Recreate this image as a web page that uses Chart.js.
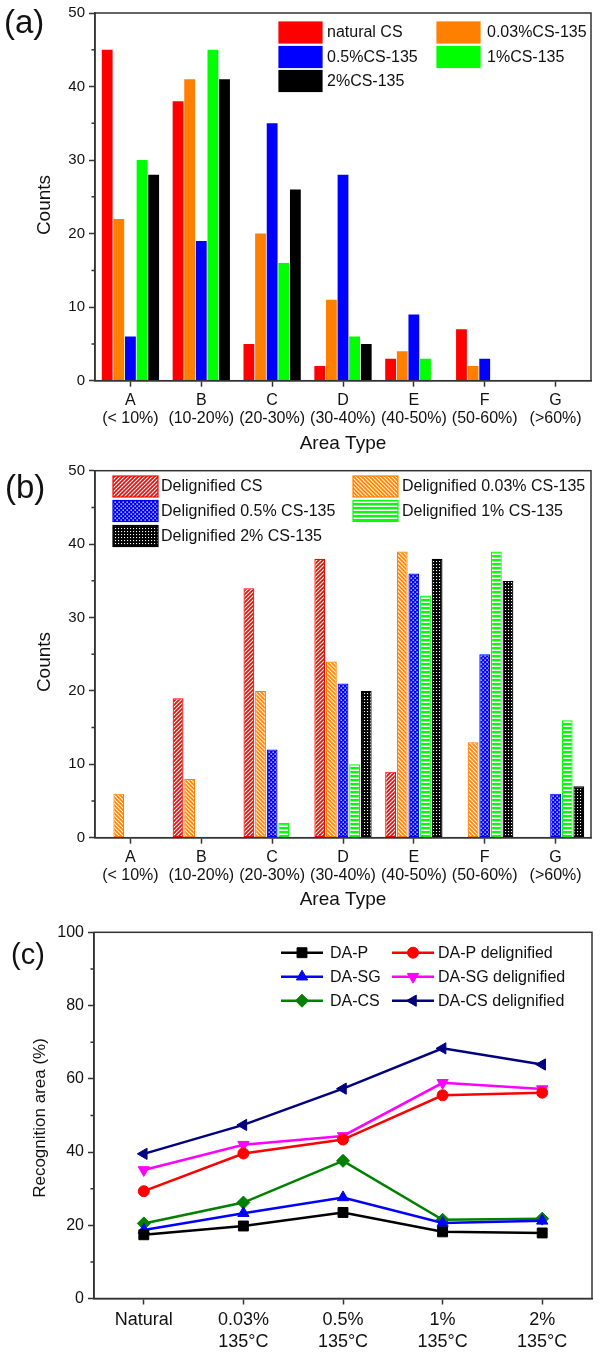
<!DOCTYPE html>
<html><head><meta charset="utf-8">
<script src="https://cdn.jsdelivr.net/npm/chart.js@4/dist/chart.umd.min.js"></script>
<style>
html,body{margin:0;padding:0;background:#fff;}
body{width:600px;height:1354px;position:relative;overflow:hidden;font-family:"Liberation Sans",Arial,sans-serif;}
.wrap{position:absolute;left:0;width:600px;}
.lab{position:absolute;color:#111;line-height:1;font-family:"Liberation Sans",Arial,sans-serif;}
</style></head><body>
<div class="wrap" style="top:0;height:455px"><canvas id="ca"></canvas></div>
<div class="wrap" style="top:455px;height:456px"><canvas id="cb"></canvas></div>
<div class="wrap" style="top:911px;height:443px"><canvas id="cc"></canvas></div>
<div class="lab" style="left:4px;top:5px;font-size:33px">(a)</div>
<div class="lab" style="left:5px;top:470px;font-size:33px">(b)</div>
<div class="lab" style="left:11px;top:940px;font-size:29px">(c)</div>
<script>
// ---------- DATA ----------
const areaLetters = ['A','B','C','D','E','F','G'];
const areaRanges = ['(< 10%)','(10-20%)','(20-30%)','(30-40%)','(40-50%)','(50-60%)','(>60%)'];

const seriesNamesA = ['natural CS','0.03%CS-135','0.5%CS-135','1%CS-135','2%CS-135'];
const naturalCS = [45,38,5,2,3,7,0];
const cs003     = [22,41,20,11,4,2,0];
const cs05      = [6,19,35,28,9,3,0];
const cs1       = [30,45,16,6,3,0,0];
const cs2       = [28,41,26,5,0,0,0];

const seriesNamesB = ['Delignified CS','Delignified 0.03% CS-135','Delignified 0.5% CS-135','Delignified 1% CS-135','Delignified 2% CS-135'];
const delCS  = [0,19,34,38,9,0,0];
const del003 = [6,8,20,24,39,13,0];
const del05  = [0,0,12,21,36,25,6];
const del1   = [0,0,2,10,33,39,16];
const del2   = [0,0,0,20,38,35,7];

const treatmentNames = ['Natural','0.03%','0.5%','1%','2%'];
const treatmentTemps = ['','135°C','135°C','135°C','135°C'];
const seriesNamesC = ['DA-P','DA-P delignified','DA-SG','DA-SG delignified','DA-CS','DA-CS delignified'];
const daP     = [17.4,19.8,23.5,18.2,17.9];
const daPdel  = [29.3,39.6,43.4,55.5,56.2];
const daSG    = [18.7,23.3,27.6,20.6,21.2];
const daSGdel = [35.1,42.0,44.4,58.9,57.2];
const daCS    = [20.5,26.2,37.6,21.5,21.8];
const daCSdel = [39.5,47.4,57.3,68.3,63.9];

const countMinorTicks = [5,15,25,35,45];
const areaMinorTicks = [10,30,50,70,90];

// ---------- helpers ----------
const FONT = '"Liberation Sans", Arial, sans-serif';
const areaLabels = areaLetters.map((l,i)=>[l, areaRanges[i]]);
const treatmentLabels = treatmentNames.map((n,i)=> treatmentTemps[i] ? [n, treatmentTemps[i]] : [n]);

function makePattern(kind, color){
  const c = document.createElement('canvas');
  const x = c.getContext('2d');
  let s = 4;
  c.width = s; c.height = s;
  if (kind === 'fwd' || kind === 'back'){
    s = 4; c.width = s; c.height = s;
    x.fillStyle = '#fff'; x.fillRect(0,0,s,s);
    x.strokeStyle = color; x.lineWidth = 1.7;
    x.beginPath();
    if (kind === 'fwd'){
      x.moveTo(0,s); x.lineTo(s,0);
      x.moveTo(-1,1); x.lineTo(1,-1);
      x.moveTo(s-1,s+1); x.lineTo(s+1,s-1);
    } else {
      x.moveTo(0,0); x.lineTo(s,s);
      x.moveTo(-1,s-1); x.lineTo(1,s+1);
      x.moveTo(s-1,-1); x.lineTo(s+1,1);
    }
    x.stroke();
  } else if (kind === 'dots'){
    s = 4; c.width = s; c.height = s;
    x.fillStyle = color; x.fillRect(0,0,s,s);
    x.fillStyle = '#fff';
    x.fillRect(0.5,0.5,1.3,1.3); x.fillRect(2.5,2.5,1.3,1.3);
  } else if (kind === 'hlines'){
    c.width = 4; c.height = 4;
    x.fillStyle = '#fff'; x.fillRect(0,0,4,4);
    x.fillStyle = color; x.fillRect(0,0,4,2.4);
  } else if (kind === 'grid'){
    c.width = 3; c.height = 3;
    x.fillStyle = color; x.fillRect(0,0,3,3);
    x.fillStyle = '#fff'; x.fillRect(1,1,1.1,1.1);
  }
  return x.createPattern(c,'repeat');
}

const framePlugin = {
  id: 'frameTicks',
  afterDraw(chart, args, o){
    const {ctx, chartArea:a} = chart;
    ctx.save();
    ctx.strokeStyle = '#333'; ctx.lineWidth = 1.5;
    ctx.strokeRect(a.left, a.top, a.right-a.left, a.bottom-a.top);
    const y = chart.scales.y;
    ctx.beginPath();
    (o.minor||[]).forEach(v=>{ const p = y.getPixelForValue(v); ctx.moveTo(a.left-3.5,p); ctx.lineTo(a.left,p); });
    ctx.stroke();
    if (o.ytitle){
      ctx.translate(o.ytitle.x, o.ytitle.y);
      ctx.rotate(-Math.PI/2);
      ctx.fillStyle = '#111';
      ctx.font = o.ytitle.size + 'px ' + FONT;
      ctx.textAlign = 'center'; ctx.textBaseline = 'middle';
      ctx.fillText(o.ytitle.text, 0, 0);
    }
    ctx.restore();
  }
};

const legendPlugin = {
  id: 'gridLegend',
  afterDraw(chart, args, o){
    if (!o.cols) return;
    const ctx = chart.ctx;
    ctx.save();
    chart.data.datasets.forEach((ds,i)=>{
      const c = o.cols[i%2], y = o.rows[Math.floor(i/2)];
      if (o.kind === 'box'){
        ctx.fillStyle = ds.backgroundColor;
        ctx.fillRect(c.box, y-o.bh/2, o.bw, o.bh);
        ctx.strokeStyle = ds.legendStroke || ds.borderColor; ctx.lineWidth = 1.2;
        ctx.strokeRect(c.box, y-o.bh/2, o.bw, o.bh);
      } else {
        ctx.strokeStyle = ds.borderColor; ctx.lineWidth = ds.borderWidth;
        ctx.beginPath(); ctx.moveTo(c.box,y); ctx.lineTo(c.box+o.bw,y); ctx.stroke();
        ctx.fillStyle = ds.pointBackgroundColor; ctx.strokeStyle = ds.pointBorderColor; ctx.lineWidth = 1;
        Chart.helpers.drawPoint(ctx, {pointStyle: ds.pointStyle, rotation: ds.pointRotation||0, radius: ds.pointRadius, borderWidth: 1}, c.box+o.bw/2, y);
      }
      ctx.fillStyle = '#111';
      ctx.font = o.size + 'px ' + FONT;
      ctx.textAlign = 'left'; ctx.textBaseline = 'middle';
      ctx.fillText(ds.label, c.text, y+0.5);
    });
    ctx.restore();
  }
};

Chart.register(framePlugin, legendPlugin);
Chart.defaults.font.family = FONT;
Chart.defaults.color = '#111';
Chart.defaults.animation = false;

function barOptions(xh, pad, legend, ytitle){
  return {
    responsive:true, maintainAspectRatio:false, animation:false,
    layout:{padding:{left:0,right:9,top:pad,bottom:0}},
    plugins:{legend:{display:false}, tooltip:{enabled:false},
      frameTicks:{minor:countMinorTicks, ytitle:ytitle}, gridLegend:legend},
    scales:{
      x:{type:'category', offset:true,
        grid:{display:true, offset:false, drawOnChartArea:false, tickLength:6, tickColor:'#333', tickWidth:1.5},
        border:{color:'#333', width:1.5},
        ticks:{font:{size:16, lineHeight:1.1}, color:'#111', padding:5, maxRotation:0, autoSkip:false},
        title:{display:true, text:'Area Type', font:{size:19, lineHeight:1}, color:'#111', padding:{top:0,bottom:2}},
        afterFit(s){ s.height = xh; }
      },
      y:{min:0, max:50,
        ticks:{stepSize:10, font:{size:15}, color:'#111', padding:4},
        grid:{drawOnChartArea:false, tickLength:6, tickColor:'#333', tickWidth:1.5},
        border:{color:'#333', width:1.5},
        afterFit(s){ s.width = 95; }
      }
    }
  };
}

// ---------- (a) ----------
const colA = ['#ff0000','#ff8000','#0000ff','#00ff00','#000000'];
const valsA = [naturalCS, cs003, cs05, cs1, cs2];
new Chart(document.getElementById('ca'), {
  type:'bar',
  data:{labels:areaLabels, datasets: valsA.map((v,i)=>({label:seriesNamesA[i], data:v,
    backgroundColor:colA[i], borderColor:colA[i], borderWidth:0,
    categoryPercentage:0.82, barPercentage:0.93}))},
  options: barOptions(455-380.7, 13,
    {kind:'box', size:16, bw:43, bh:21, cols:[{box:279,text:327},{box:437,text:487}], rows:[32.5,57,81]},
    {text:'Counts', x:45, y:205, size:19})
});

// ---------- (b) ----------
const kindsB = ['fwd','back','dots','hlines','grid'];
const valsB = [delCS, del003, del05, del1, del2];
new Chart(document.getElementById('cb'), {
  type:'bar',
  data:{labels:areaLabels, datasets: valsB.map((v,i)=>({label:seriesNamesB[i], data:v,
    backgroundColor:makePattern(kindsB[i], colA[i]), borderColor:colA[i], borderWidth:1.2, borderSkipped:false,
    categoryPercentage:0.82, barPercentage:0.93}))},
  options: barOptions(456-(837.7-455), 470.7-455,
    {kind:'box', size:16, bw:45, bh:21, cols:[{box:113,text:161},{box:353,text:402}], rows:[31.5,56,81]},
    {text:'Counts', x:45, y:207, size:19})
});

// ---------- (c) ----------
const colC = ['#000000','#ff0000','#0000ff','#ff00ff','#008000','#000080'];
const styleC = ['rect','circle','triangle','triangle','rectRot','triangle'];
const rotC = [0,0,0,180,0,270];
const radC = [7,5.5,6.5,6.5,6.5,6.5];
const valsC = [daP, daPdel, daSG, daSGdel, daCS, daCSdel];
new Chart(document.getElementById('cc'), {
  type:'line',
  data:{labels:treatmentLabels, datasets: valsC.map((v,i)=>({label:seriesNamesC[i], data:v,
    borderColor:colC[i], backgroundColor:colC[i], borderWidth:2.5,
    pointStyle:styleC[i], pointRotation:rotC[i], pointRadius:radC[i],
    pointBackgroundColor:colC[i], pointBorderColor:colC[i], pointBorderWidth:1,
    tension:0, fill:false}))},
  options:{
    responsive:true, maintainAspectRatio:false, animation:false,
    layout:{padding:{left:0,right:8,top:932.3-911,bottom:0}},
    plugins:{legend:{display:false}, tooltip:{enabled:false},
      frameTicks:{minor:areaMinorTicks, ytitle:{text:'Recognition area (%)', x:40, y:207, size:17}},
      gridLegend:{kind:'line', size:16, bw:42, cols:[{box:281,text:330},{box:392,text:438}], rows:[41.7,65.7,89.7]}},
    scales:{
      x:{type:'category', offset:true,
        grid:{display:true, offset:false, drawOnChartArea:false, tickLength:6, tickColor:'#333', tickWidth:1.5},
        border:{color:'#333', width:1.5},
        ticks:{font:{size:18, lineHeight:1.26}, color:'#111', padding:4, maxRotation:0, autoSkip:false},
        afterFit(s){ s.height = 1354-1298.5; }
      },
      y:{min:0, max:100,
        ticks:{stepSize:20, font:{size:16}, color:'#111', padding:4},
        grid:{drawOnChartArea:false, tickLength:6, tickColor:'#333', tickWidth:1.5},
        border:{color:'#333', width:1.5},
        afterFit(s){ s.width = 94; }
      }
    }
  }
});
</script>
</body></html>
